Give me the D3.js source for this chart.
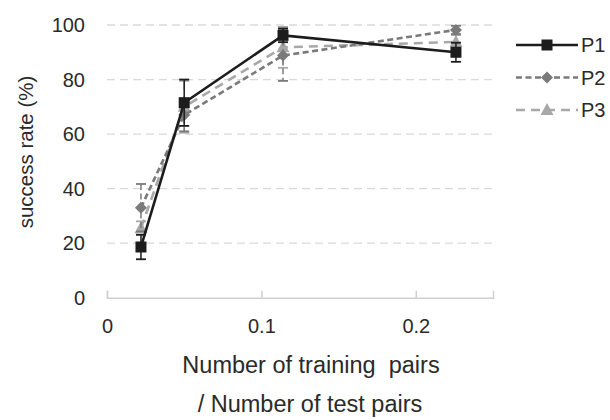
<!DOCTYPE html>
<html>
<head>
<meta charset="utf-8">
<script src="https://cdn.jsdelivr.net/npm/d3@7"></script>
<style>
  html, body { margin: 0; padding: 0; background: #fff; }
  svg { display: block; font-family: "Liberation Sans", Arial, sans-serif; }
</style>
</head>
<body>
<svg id="chart" width="610" height="420"></svg>
<script>
// ratio of training pairs to test pairs
const ratios = [0.022, 0.05, 0.114, 0.226];
const seriesNames = ["P1", "P2", "P3"];
const p1Values = [18.6, 71.5, 96.2, 90.0];
const p1Errors = [4.5, 8.5, 2.5, 3.5];
const p2Values = [33.0, 67.0, 88.8, 98.2];
const p2Errors = [8.7, 6.0, 9.3, 1.5];
const p3Values = [25.5, 70.0, 91.8, 93.8];
const p3Errors = [2.5, 9.5, 7.5, 2.5];
const yTicks = [0, 20, 40, 60, 80, 100];
const xTicks = [0, 0.1, 0.2];

const series = [
  { name: seriesNames[0], values: p1Values, errors: p1Errors, color: "#1c1c1c", dash: null, marker: "square" },
  { name: seriesNames[1], values: p2Values, errors: p2Errors, color: "#7a7a7a", dash: "6,3.5", marker: "diamond" },
  { name: seriesNames[2], values: p3Values, errors: p3Errors, color: "#a8a8a8", dash: "9,6", marker: "triangle" }
];

const svg = d3.select("#chart");
const plotLeft = 107, plotRight = 493, plotTop = 25, plotBottom = 297.7;

const x = d3.scaleLinear().domain([0, 0.25]).range([plotLeft, plotRight]);
const y = d3.scaleLinear().domain([0, 100]).range([plotBottom, plotTop]);

// horizontal dashed gridlines
svg.append("g")
  .selectAll("line")
  .data(yTicks.filter(d => d > 0))
  .join("line")
  .attr("x1", plotLeft).attr("x2", plotRight)
  .attr("y1", d => y(d)).attr("y2", d => y(d))
  .attr("stroke", "#dadada")
  .attr("stroke-width", 1.3)
  .attr("stroke-dasharray", "8,5");

// y tick labels
svg.append("g")
  .selectAll("text")
  .data(yTicks)
  .join("text")
  .attr("x", 85)
  .attr("y", d => y(d))
  .attr("dy", "0.35em")
  .attr("text-anchor", "end")
  .attr("font-size", 20)
  .attr("fill", "#2a2a2a")
  .text(d => d);

// x axis with ticks pointing up
const xAxis = d3.axisBottom(x).tickValues(xTicks).tickSize(-7).tickFormat(d3.format("~g"));
const gx = svg.append("g").attr("transform", `translate(0,${plotBottom})`).call(xAxis);
gx.select(".domain").attr("stroke", "#d0d0d0").attr("stroke-width", 1.5);
gx.selectAll(".tick line").attr("stroke", "#d0d0d0").attr("stroke-width", 1.5);
gx.selectAll(".tick text")
  .attr("font-size", 20)
  .attr("font-family", "Liberation Sans, Arial, sans-serif")
  .attr("fill", "#2a2a2a")
  .attr("y", 0)
  .attr("dy", 35.5);

// axis titles
svg.append("text")
  .attr("transform", "translate(33,152) rotate(-90)")
  .attr("text-anchor", "middle")
  .attr("font-size", 20.5)
  .attr("fill", "#2a2a2a")
  .text("success rate (%)");

svg.append("text")
  .attr("x", 311).attr("y", 373)
  .attr("text-anchor", "middle")
  .attr("font-size", 23.5)
  .attr("fill", "#2a2a2a")
  .style("white-space", "pre")
  .text("Number of training  pairs");

svg.append("text")
  .attr("x", 310).attr("y", 412)
  .attr("text-anchor", "middle")
  .attr("font-size", 23.5)
  .attr("fill", "#2a2a2a")
  .text("/ Number of test pairs");

function drawMarker(g, kind, cx, cy, color) {
  if (kind === "square") {
    g.append("rect").attr("x", cx - 5.5).attr("y", cy - 5.5).attr("width", 11).attr("height", 11).attr("fill", color);
  } else if (kind === "diamond") {
    g.append("path").attr("d", `M${cx},${cy - 6}L${cx + 6},${cy}L${cx},${cy + 6}L${cx - 6},${cy}Z`).attr("fill", color);
  } else {
    g.append("path").attr("d", `M${cx},${cy - 7}L${cx + 6.5},${cy + 5}L${cx - 6.5},${cy + 5}Z`).attr("fill", color);
  }
}

const line = d3.line().x(d => x(d[0])).y(d => y(d[1]));

// draw back to front: P3, P2, P1
series.slice().reverse().forEach(s => {
  const g = svg.append("g");
  const pts = ratios.map((r, i) => [r, s.values[i], s.errors[i]]);
  // error bars share the series dash pattern
  pts.forEach(p => {
    const cx = x(p[0]);
    g.append("line").attr("x1", cx).attr("x2", cx).attr("y1", y(p[1] + p[2])).attr("y2", y(p[1] - p[2]))
      .attr("stroke", s.color).attr("stroke-width", 1.5)
      .attr("stroke-dasharray", s.dash);
    [p[1] - p[2], p[1] + p[2]].forEach(v => {
      g.append("line").attr("x1", cx - 5).attr("x2", cx + 5).attr("y1", y(v)).attr("y2", y(v))
        .attr("stroke", s.color).attr("stroke-width", 1.8);
    });
  });
  g.append("path")
    .datum(pts)
    .attr("d", line)
    .attr("fill", "none")
    .attr("stroke", s.color)
    .attr("stroke-width", 2.6)
    .attr("stroke-dasharray", s.dash);
  pts.forEach(p => drawMarker(g, s.marker, x(p[0]), y(p[1]), s.color));
});

// legend
const legend = svg.append("g");
series.forEach((s, i) => {
  const ly = 45 + i * 32.5;
  legend.append("line")
    .attr("x1", 516).attr("x2", 578).attr("y1", ly).attr("y2", ly)
    .attr("stroke", s.color).attr("stroke-width", 2.6)
    .attr("stroke-dasharray", s.dash);
  drawMarker(legend, s.marker, 547, ly, s.color);
  legend.append("text")
    .attr("x", 581).attr("y", ly).attr("dy", "0.36em")
    .attr("font-size", 20).attr("fill", "#2a2a2a")
    .text(s.name);
});
</script>
</body>
</html>
